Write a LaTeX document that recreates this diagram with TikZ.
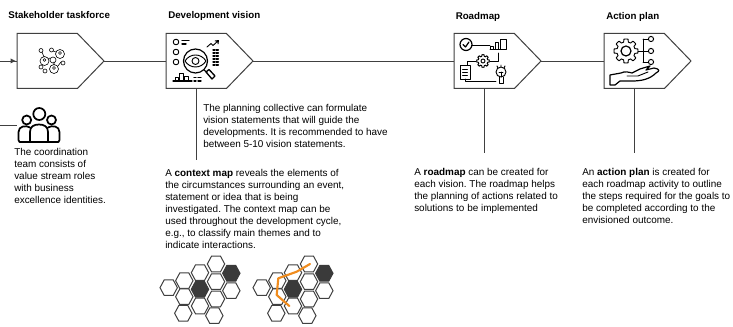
\documentclass[tikz,border=0pt]{standalone}
\usepackage{fontspec}
\setmainfont{Liberation Sans}
\usetikzlibrary{shapes.symbols,calc,arrows.meta}
\definecolor{lin}{HTML}{404040}
\definecolor{hexd}{HTML}{3A3A3A}
\definecolor{org}{HTML}{F08C1E}
\tikzset{
  x=0.75pt,y=-0.75pt,
  penta/.style={shape=signal,signal to=east,signal from=nowhere,signal pointer angle=92,draw=lin,line width=0.75pt,minimum width=65.25pt,minimum height=41.25pt,inner sep=0pt,outer sep=0pt,fill=white,anchor=west},
  conn/.style={draw=lin,line width=0.7pt},
  title/.style={anchor=west,inner sep=0pt,font=\fontsize{7.3}{9}\selectfont\bfseries},
  body/.style={anchor=north west,inner sep=0pt,align=left,font=\fontsize{7.45}{9}\selectfont\frenchspacing},
  ico/.style={draw=black,line width=0.7pt,line cap=round,line join=round},
  hexa/.style={draw=lin,line width=0.75pt,fill=white},
  hexb/.style={draw=hexd,line width=0.75pt,fill=hexd},
}
\newcommand{\hx}[3][hexa]{\draw[#1] (#2-8.7,#3) -- (#2-4.5,#3-7.8) -- (#2+4.5,#3-7.8) -- (#2+8.7,#3) -- (#2+4.5,#3+7.8) -- (#2-4.5,#3+7.8) -- cycle;}
\newcommand{\gearico}[3]{\draw[ico,shift={(#1,#2)}] plot[domain=0:355,samples=72] (\x:{mod(\x+11,45)<22.5 ? #3 : 0.76*#3}) -- cycle;}
\newcommand{\hexcluster}[1]{%
 \begin{scope}[xshift=#1*0.75pt]
 \hx{216}{264}\hx{200}{272.7}\hx{216}{281.7}\hx{184.3}{280.7}\hx{168.7}{287.7}
 \hx{231.3}{290.7}\hx{216}{299}\hx{184.3}{296.7}\hx{200}{306}\hx{183.3}{313.3}\hx{214.3}{315.7}
 \hx[hexb]{231.3}{273.3}\hx[hexb]{200}{289.3}
 \end{scope}}
\begin{document}
\begin{tikzpicture}
\useasboundingbox (0,0) rectangle (733,327);
% pentagons
\node[penta] (task) at (17,61) {};
\node[penta] (vis) at (166,61) {};
\node[penta] (road) at (454,61) {};
\node[penta] (act) at (604,61) {};
\coordinate (inL) at (0,61);
\coordinate (teamL) at (0,125);
\coordinate (peopleL) at (17,125);
\coordinate (visB) at ($(vis.west)+(30,27.5)$);
\coordinate (visE) at (196,160);
\coordinate (roadB) at ($(road.west)+(30,27.5)$);
\coordinate (roadE) at (484,153);
\coordinate (actB) at ($(act.west)+(30,27.5)$);
\coordinate (actE) at (634,153);
% connectors
\draw[conn] (inL) -- (task.west);
\draw[draw=none,fill=lin] (10.5,58.5) -- (15.5,61) -- (10.5,63.5) -- cycle;
\draw[conn] (task.east) -- (vis.west);
\draw[conn] (vis.east) -- (road.west);
\draw[conn] (road.east) -- (act.west);
\draw[conn] (teamL) -- (peopleL);
\draw[conn] (visB) -- (visE);
\draw[conn] (roadB) -- (roadE);
\draw[conn] (actB) -- (actE);
% titles
\node[title] (t1) at (8,15.5) {Stakeholder taskforce};
\node[title] (t2) at (168,15.5) {Development vision};
\node[title] (t3) at (455.5,17) {Roadmap};
\node[title] (t4) at (606,17) {Action plan};
% body text
\node[body] (b1) at (14,148.5) {The coordination\\team consists of\\value stream roles\\with business\\excellence identities.};
\node[body] (b2) at (203,104) {The planning collective can formulate\\vision statements that will guide the\\developments. It is recommended to have\\between 5-10 vision statements.};
\node[body] (b3) at (165,169) {A \textbf{context map} reveals the elements of\\the circumstances surrounding an event,\\statement or idea that is being\\investigated. The context map can be\\used throughout the development cycle,\\e.g., to classify main themes and to\\indicate interactions.};
\node[body] (b4) at (414,168.5) {A \textbf{roadmap} can be created for\\each vision. The roadmap helps\\the planning of actions related to\\solutions to be implemented};
\node[body] (b5) at (582,168.5) {An \textbf{action plan} is created for\\each roadmap activity to outline\\the steps required for the goals to\\be completed according to the\\envisioned outcome.};
% stakeholder icon
\begin{scope}[ico,line width=0.45pt]
\draw (44.5,61) circle (4.5) (44.5,60) circle (1.5);
\draw (60,54) circle (4.5) (60,53) circle (1.5);
\draw (54,69) circle (4.5) (54,68) circle (1.5);
\draw (53,60) circle (3);
\draw (41,50.5) circle (2) (51.5,50) circle (2) (63,63) circle (2) (41,67) circle (2) (45,71) circle (2);
\draw (42,52) -- (44,57) (53,51) -- (56,52) (50,58) -- (48,59) (54,62) -- (54,65) (61,62) -- (58,66);
\end{scope}
% vision icon
\begin{scope}[ico]
\draw (176,42) circle (2.8) (176,52) circle (2.8) (176,62) circle (2.8);
\draw[line width=1pt] (182,40.5) -- (189,40.5) (182,44) -- (186,44);
\draw[line width=0.9pt] (195.5,61) circle (12);
\draw (185,61) .. controls (190,53) and (201,53) .. (206,61) .. controls (201,69) and (190,69) .. (185,61) -- cycle;
\draw (195.5,61) circle (3.5);
\draw[line width=0.9pt] (204,70) -- (207,72.5);
\draw[line width=1pt] (206,72) -- (209,69.5) -- (215,76) -- (212,79) -- cycle;
\draw (207,47) -- (211,43.5) -- (213,45.5) -- (218,41) (215,41) -- (218.5,40.5) -- (218,44);
\draw[line width=1pt,dash pattern=on 1.5pt off 1pt] (213,50) -- (219,50) (213,53) -- (219,53) (213,56) -- (219,56) (213,59) -- (219,59) (213,62) -- (219,62) (213,65) -- (219,65);
\draw[line width=0.9pt] (173,81) -- (192,81);
\draw (175,81) -- (175,77) -- (178,77) -- (178,81) (179.5,81) -- (179.5,73) -- (183,73) -- (183,81) (184.5,81) -- (184.5,76) -- (188,76) -- (188,81);
\draw[line width=1pt] (194,77.5) -- (196,77.5) (198,77.5) -- (201,77.5) (194,81) -- (196,81) (198,81) -- (201,81);
\end{scope}
% people icon
\begin{scope}[ico,line width=1.3pt]
\draw (39.3,114) circle (6);
\draw (26.7,120) circle (4.5) (51.5,120) circle (4.5);
\draw (30,142) -- (30,132) .. controls (30,126.5) and (34,124.5) .. (39,124.5) .. controls (44,124.5) and (48,126.5) .. (48,132) -- (48,142);
\draw (30,142) -- (48,142);
\draw (30,127.5) .. controls (26,125) and (18.5,126) .. (18.5,132) -- (18.5,140) -- (19.5,142) -- (30,142);
\draw (48,127.5) .. controls (52,125) and (59.5,126) .. (59.5,132) -- (59.5,140) -- (58.5,142) -- (48,142);
\end{scope}
% roadmap icon
\begin{scope}[ico]
\draw[line width=0.9pt] (466,44.5) circle (6);
\draw[line width=0.9pt] (463,44.5) -- (465.5,47) -- (469,42);
\draw (472,45) -- (490,45);
\draw (490,49) -- (490,46) -- (493,46) -- (493,49) (495,49) -- (495,42) -- (498,42) -- (498,49) (500,49) -- (500,39) -- (506,39) -- (506,49) -- (490,49);
\gearico{483}{61}{6.3}
\draw (483,61) circle (2);
\draw (490,61) -- (498,61) -- (498,53);
\draw (476,61) -- (467,61) -- (467,65);
\draw (460,65) rectangle (470,79);
\draw (462.5,69) -- (467.5,69) (462.5,72) -- (467.5,72) (462.5,75) -- (467.5,75);
\draw (465,79) -- (465,81) -- (496,81);
\draw (501,72) circle (5);
\draw (499,77) -- (499,83) -- (503,83) -- (503,77);
\draw (501,72) -- (501,77) (499,72) -- (503,72);
\draw (498,68) -- (497,66) (501,67) -- (501,65) (504,68) -- (505,66);
\end{scope}
% action icon
\begin{scope}[ico]
\gearico{626}{51}{12}
\draw[line width=0.9pt] (626,51) circle (5);
\draw (638,51) -- (648,51) (643,39) -- (643,62) (643,39) -- (648,39) (643,62) -- (648,62);
\draw (651,39) circle (2.6) (651,51) circle (2.6) (651,62) circle (2.6);
\draw[line width=0.9pt] (610,85) -- (610,75) -- (621,73) .. controls (625,71) and (628,72) .. (632,73) -- (640,69) -- (650,66) -- (646,70) -- (654,68) .. controls (660,69) and (660,71) .. (656,73) .. controls (650,79) and (642,81) .. (632,81) -- (620,81) -- (615,85) -- cycle;
\draw (627,76) -- (638,76) -- (648,72);
\end{scope}
% hexagons
\hexcluster{0}
\hexcluster{93}
\draw[draw=org,line width=1.6pt,line join=round,line cap=round] (310,264) -- (296.7,271.7) -- (278.3,278.3) -- (276.7,295) -- (289.3,306);
\end{tikzpicture}
\end{document}
